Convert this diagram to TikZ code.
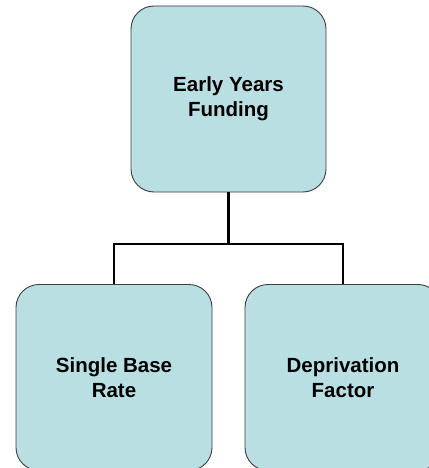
\documentclass[tikz,border=0pt]{standalone}
\usepackage{fontspec}
\setmainfont{Liberation Sans}
\definecolor{boxfill}{RGB}{186,223,227}
\definecolor{boxline}{RGB}{60,60,60}
\begin{document}
\begin{tikzpicture}[x=1pt,y=-1pt,
  card/.style={draw=boxline, line width=0.9pt, fill=boxfill, rounded corners=23pt,
    minimum width=196pt, minimum height=186pt, inner sep=0pt, align=center,
    font=\fontsize{20.5}{25}\selectfont\bfseries},
  conn/.style={draw=black, line width=2.6pt}]
\useasboundingbox (0,0) rectangle (428,468);
\node[card, minimum width=195pt] (top) at (228.5,99) {Early Years\\ Funding};
\node[card] (left) at (114,377.5) {Single Base\\ Rate};
\node[card] (right) at (343,377.5) {Deprivation\\ Factor};
\coordinate (j) at (228.5,244);
\draw[conn] (top.south) -- (j);
\draw[conn] (left.north) |- (j) -| (right.north);
\end{tikzpicture}
\end{document}
